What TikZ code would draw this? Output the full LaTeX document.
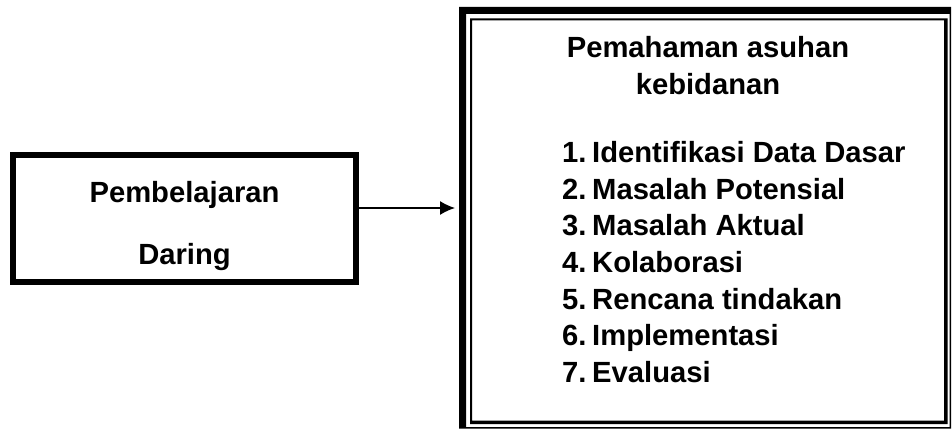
\documentclass[tikz,border=0pt]{standalone}
\usepackage{fontspec}
\setmainfont{Liberation Sans}
\usetikzlibrary{arrows.meta}

\begin{document}
\begin{tikzpicture}[x=1pt, y=-1pt, words/.style={font=\fontsize{29.2}{36.7}\selectfont\bfseries, inner sep=0pt}, box/.style={draw, line width=6pt, minimum width=343pt, minimum height=127pt}]
\useasboundingbox (0,0) rectangle (952,430);
\node[box] (daringbox) at (184.5,218.5) {};
\node[words, anchor=base] (pembel) at (184.5,203) {Pembelajaran};
\node[words, anchor=base] (daring) at (184.5,264) {Daring};

\node[minimum width=491pt, minimum height=422pt, inner sep=0pt, outer sep=0pt] (asuhan) at (704.5,218) {};
% double frame: thick-thin outside, thin-thick inside
\fill[even odd rule] (459,7) rectangle (951,428.5) (466,14) rectangle (949.5,427);
\fill[even odd rule] (470,18.5) rectangle (947.5,424) (472,20.5) rectangle (944,420.5);

\node[words, anchor=base] (judul1) at (708,58) {Pemahaman asuhan};
\node[words, anchor=base] (judul2) at (708,95) {kebidanan};
\foreach \t [count=\i] in {Identifikasi Data Dasar, Masalah Potensial, Masalah Aktual, Kolaborasi, Rencana tindakan, Implementasi, Evaluasi}
  \node[words, anchor=base west] (langkah\i) at (562, {126.5+36.5*\i}) {\makebox[30pt][l]{\i.}\t};

\draw[line width=1.5pt, -{Latex[length=15pt,width=14pt]}] ([yshift=10.5pt]daringbox.east) -- ([xshift=-4pt,yshift=10pt]asuhan.west);
\end{tikzpicture}
\end{document}
